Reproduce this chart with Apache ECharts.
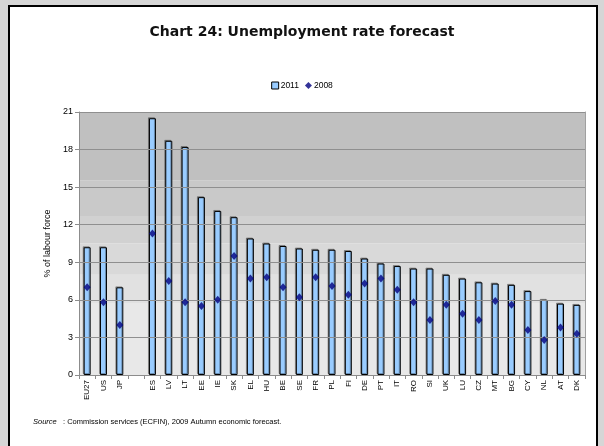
<!DOCTYPE html>
<html>
<head>
<meta charset="utf-8">
<style>
  html, body { margin: 0; padding: 0; background: #d6d6d6; }
  #chart { width: 604px; height: 446px; }
</style>
<script src="https://cdn.jsdelivr.net/npm/echarts@6/dist/echarts.min.js"></script>
</head>
<body>
<div id="chart"></div>
<script>
// Countries (blank slot separates the non-EU aggregates from member states)
const categories = ['EU27', 'US', 'JP', '', 'ES', 'LV', 'LT', 'EE', 'IE', 'SK', 'EL', 'HU', 'BE', 'SE',
  'FR', 'PL', 'FI', 'DE', 'PT', 'IT', 'RO', 'SI', 'UK', 'LU', 'CZ', 'MT', 'BG', 'CY', 'NL', 'AT', 'DK'];

// Unemployment rate, % of labour force
const rate2011 = [10.2, 10.2, 7.0, null, 20.5, 18.7, 18.2, 14.2, 13.1, 12.6, 10.9, 10.5, 10.3, 10.1,
  10.0, 10.0, 9.9, 9.3, 8.9, 8.7, 8.5, 8.5, 8.0, 7.7, 7.4, 7.3, 7.2, 6.7, 6.0, 5.7, 5.6];
const rate2008 = [7.0, 5.8, 4.0, null, 11.3, 7.5, 5.8, 5.5, 6.0, 9.5, 7.7, 7.8, 7.0, 6.2,
  7.8, 7.1, 6.4, 7.3, 7.7, 6.8, 5.8, 4.4, 5.6, 4.9, 4.4, 5.9, 5.6, 3.6, 2.8, 3.8, 3.3];

const yTicks = { min: 0, max: 21, interval: 3 };

// Stepped grey backdrop of the plot area, darker towards the top
const bandStops = [0, 5.75, 8.0, 10.5, 12.7, 15.55, 21];
const bandColors = ['#e8e8e8', '#e1e1e1', '#d9d9d9', '#d1d1d1', '#c9c9c9', '#c0c0c0'];

const chart = echarts.init(document.getElementById('chart'), null, { renderer: 'canvas' });

const bands = bandColors.map((c, i) => [
  { yAxis: bandStops[i], itemStyle: { color: c, opacity: 1 } },
  { yAxis: bandStops[i + 1] }
]);

// Horizontal grid lines drawn over the backdrop but beneath the bars
const gridValues = [];
for (let v = yTicks.min + yTicks.interval; v <= yTicks.max; v += yTicks.interval) gridValues.push(v);

const axisGrey = '#8c8c8c';

chart.setOption({
  animation: false,
  backgroundColor: '#d6d6d6',
  graphic: [
    {
      type: 'rect',
      shape: { x: 9, y: 6, width: 588, height: 460 },
      style: { fill: '#ffffff', stroke: '#000000', lineWidth: 2 },
      z: -10
    },
    {
      type: 'text',
      left: 33, top: 418,
      style: {
        text: '{i|Source}   : Commission services (ECFIN), 2009 Autumn economic forecast.',
        rich: {
          i: { fontStyle: 'italic', fontSize: 7.5, fontFamily: 'Liberation Sans', fill: '#000' }
        },
        fontSize: 7.5, fontFamily: 'Liberation Sans', fill: '#000'
      }
    }
  ],
  title: {
    text: 'Chart 24: Unemployment rate forecast',
    left: 'center', top: 20,
    textStyle: { fontFamily: 'DejaVu Sans', fontWeight: 'bold', fontSize: 14, color: '#111' }
  },
  legend: {
    top: 76, left: 'center',
    itemWidth: 7, itemHeight: 7, itemGap: 6,
    textStyle: { fontFamily: 'Liberation Sans', fontSize: 8.5, color: '#000', padding: [0, 0, 0, -3] },
    data: [
      { name: '2011', icon: 'rect', itemStyle: { color: '#99ccff', borderColor: '#000', borderWidth: 1 } },
      { name: '2008', icon: 'diamond', itemStyle: { color: '#000080' } }
    ]
  },
  grid: {
    left: 79, right: 19, top: 112, bottom: 71,
    show: false
  },
  xAxis: {
    type: 'category',
    data: categories,
    boundaryGap: true,
    z: 2,
    axisLine: { lineStyle: { color: axisGrey } },
    axisTick: { show: true, length: 4, alignWithLabel: false, lineStyle: { color: axisGrey } },
    axisLabel: {
      interval: 0, rotate: 90, margin: 5,
      fontFamily: 'Liberation Sans', fontSize: 8, color: '#000'
    },
    splitLine: { show: false }
  },
  yAxis: [
    {
      type: 'value',
      min: yTicks.min, max: yTicks.max, interval: yTicks.interval,
      z: 2,
      name: '% of labour force',
      nameLocation: 'middle', nameGap: 25, nameRotate: 90,
      nameTextStyle: { fontFamily: 'Liberation Sans', fontSize: 9, color: '#000' },
      axisLine: { show: true, lineStyle: { color: axisGrey } },
      axisTick: { show: true, length: 4, lineStyle: { color: axisGrey } },
      axisLabel: { fontFamily: 'Liberation Sans', fontSize: 9, color: '#000', margin: 6 },
      splitLine: { show: false }
    },
    {
      // right-hand frame of the plot area
      type: 'value', position: 'right',
      min: yTicks.min, max: yTicks.max, interval: yTicks.interval,
      z: 2,
      axisLine: { show: true, lineStyle: { color: '#a0a0a0' } },
      axisTick: { show: false }, axisLabel: { show: false }, splitLine: { show: false }
    }
  ],
  series: [
    {
      // backdrop bands and grid lines
      type: 'line',
      data: [],
      z: 1,
      silent: true,
      markArea: { silent: true, data: bands },
      markLine: {
        silent: true, symbol: 'none',
        label: { show: false },
        lineStyle: { color: '#8f8f8f', type: 'solid', width: 1, opacity: 1 },
        data: gridValues.map(v => ({ yAxis: v }))
      }
    },
    {
      name: '2011',
      type: 'bar',
      data: rate2011,
      barWidth: 7,
      itemStyle: {
        color: '#99ccff', borderColor: '#000', borderWidth: 1,
        shadowColor: 'rgba(0,0,0,0.3)', shadowOffsetX: -1, shadowOffsetY: -1, shadowBlur: 0
      },
      z: 3
    },
    {
      name: '2008',
      type: 'scatter',
      data: rate2008,
      symbol: 'diamond',
      symbolSize: [7, 8],
      itemStyle: { color: '#000080' },
      z: 5
    }
  ]
});
</script>
</body>
</html>
